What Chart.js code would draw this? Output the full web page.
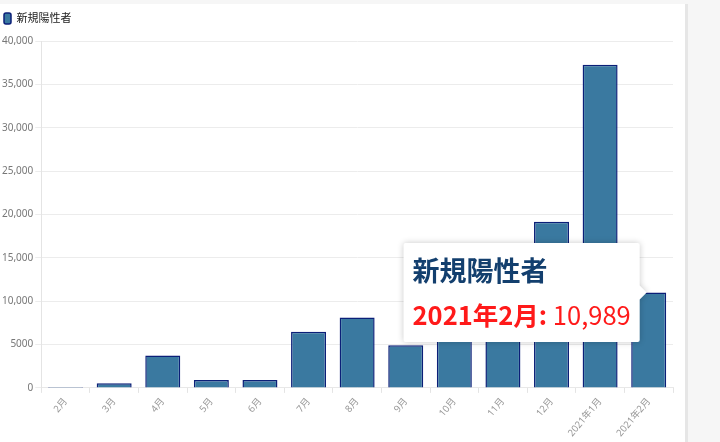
<!DOCTYPE html>
<html lang="ja">
<head>
<meta charset="utf-8">
<script src="https://cdn.jsdelivr.net/npm/chart.js@4.4.1/dist/chart.umd.min.js"></script>
<style>
  html, body { margin: 0; padding: 0; background: #f6f6f6; }
  #wrap {
    position: absolute; left: 0; top: 4px; width: 685px; height: 438px;
    background: #fff; border-right: 3px solid #e6e6e6;
  }
</style>
</head>
<body>
<div id="wrap"><canvas id="chartTokyo"></canvas></div>
<script>
// 月ごとの新規陽性者数
var months = ['2月', '3月', '4月', '5月', '6月', '7月', '8月', '9月', '10月', '11月', '12月', '2021年1月', '2021年2月'];
var newCases = [110, 520, 3730, 920, 920, 6470, 8120, 4930, 5700, 9850, 19170, 37260, 10989];
var yTickLabels = ['0', '5000', '10,000', '15,000', '20,000', '25,000', '30,000', '35,000', '40,000'];
var seriesName = '新規陽性者';
var highlightIndex = 12;

var fontFamily = '"Noto Sans", "Noto Sans CJK JP", sans-serif';

// 凡例の下に余白を足す
var legendMargin = {
    id: 'legendMargin',
    beforeInit: function (chart) {
        var fit = chart.legend.fit;
        chart.legend.fit = function () {
            fit.bind(chart.legend)();
            this.height += 7;
        };
    }
};

// ツールチップを固定表示するプラグイン
var fixedTooltip = {
    id: 'fixedTooltip',
    afterDraw: function (chart) {
        var ctx = chart.ctx;
        var el = chart.getDatasetMeta(0).data[highlightIndex];
        var pos = el.tooltipPosition();
        var tipX = pos.x - 2, tipY = pos.y;
        var caret = 7;
        var pad = 9;

        var titleFont = 'bold 27px "Noto Sans CJK JP", sans-serif';
        var boldFont = 'bold 25.5px "Noto Sans CJK JP", sans-serif';
        var normFont = '25.5px "Noto Sans CJK JP", sans-serif';
        var label = months[highlightIndex] + ': ';
        var value = newCases[highlightIndex].toLocaleString('en-US');

        ctx.save();
        ctx.font = titleFont;
        var wTitle = ctx.measureText(seriesName).width;
        ctx.font = boldFont;
        var wLabel = ctx.measureText(label).width;
        ctx.font = normFont;
        var wValue = ctx.measureText(value).width;
        var w = Math.max(wTitle, wLabel + wValue) + pad * 2;
        var h = 99;
        var right = tipX - caret;
        var left = right - w;
        var top = tipY - h / 2;

        ctx.shadowColor = 'rgba(0,0,0,0.22)';
        ctx.shadowBlur = 6;
        ctx.fillStyle = '#fff';
        ctx.beginPath();
        ctx.moveTo(left + 2, top);
        ctx.lineTo(right - 2, top);
        ctx.quadraticCurveTo(right, top, right, top + 2);
        ctx.lineTo(right, tipY - caret);
        ctx.lineTo(tipX, tipY);
        ctx.lineTo(right, tipY + caret);
        ctx.lineTo(right, top + h - 2);
        ctx.quadraticCurveTo(right, top + h, right - 2, top + h);
        ctx.lineTo(left + 2, top + h);
        ctx.quadraticCurveTo(left, top + h, left, top + h - 2);
        ctx.lineTo(left, top + 2);
        ctx.quadraticCurveTo(left, top, left + 2, top);
        ctx.closePath();
        ctx.fill();
        ctx.shadowColor = 'transparent';

        ctx.textBaseline = 'alphabetic';
        ctx.textAlign = 'left';
        ctx.fillStyle = '#133f6e';
        ctx.font = titleFont;
        ctx.fillText(seriesName, left + pad, top + 38);
        ctx.fillStyle = '#ff1a1a';
        ctx.font = boldFont;
        ctx.fillText(label, left + pad, top + 82);
        ctx.font = normFont;
        ctx.fillText(value, left + pad + wLabel, top + 82);
        ctx.restore();
    }
};

var ctx = document.getElementById('chartTokyo').getContext('2d');
var chart = new Chart(ctx, {
    type: 'bar',
    data: {
        labels: months,
        datasets: [{
            label: seriesName,
            data: newCases,
            backgroundColor: '#3a79a0',
            borderColor: '#0b1f78',
            borderWidth: 1.5
        }]
    },
    options: {
        responsive: true,
        maintainAspectRatio: false,
        animation: false,
        layout: { padding: { left: 0, right: 12, top: 5, bottom: 0 } },
        plugins: {
            legend: {
                position: 'top',
                align: 'start',
                labels: {
                    boxWidth: 7,
                    boxHeight: 11,
                    padding: 4,
                    useBorderRadius: true,
                    borderRadius: 2,
                    color: '#222',
                    font: { family: fontFamily, size: 11 }
                }
            },
            tooltip: { enabled: false }
        },
        scales: {
            x: {
                grid: { display: true, drawOnChartArea: false, drawTicks: true, tickLength: 5, color: '#e4e4e4' },
                border: { color: '#e8e8e8' },
                ticks: {
                    color: '#999',
                    minRotation: 50,
                    maxRotation: 50,
                    font: { family: fontFamily, size: 9.6 }
                }
            },
            y: {
                min: 0,
                max: 40000,
                grid: { color: '#ececec', tickLength: 6 },
                border: { color: '#e4e4e4' },
                ticks: {
                    stepSize: 5000,
                    color: '#777',
                    padding: 2,
                    font: { family: fontFamily, size: 10 },
                    callback: function (value) {
                        return yTickLabels[Math.round(value / 5000)];
                    }
                }
            }
        }
    },
    plugins: [legendMargin, fixedTooltip]
});
</script>
</body>
</html>
